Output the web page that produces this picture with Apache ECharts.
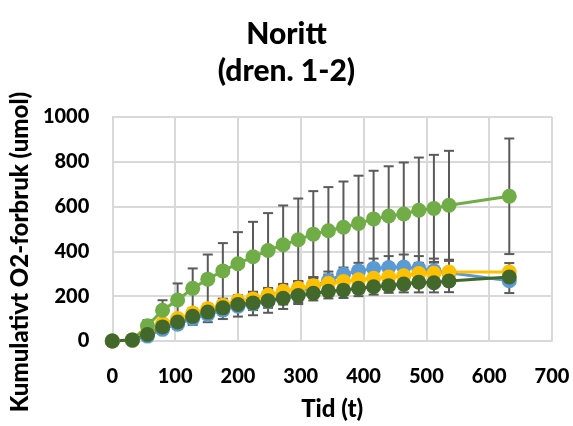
<!DOCTYPE html>
<html>
<head>
<meta charset="utf-8">
<script src="https://cdn.jsdelivr.net/npm/echarts@6/dist/echarts.min.js"></script>
<style>
html,body{margin:0;padding:0;background:#fff;}
#chart{width:573px;height:426px;}
</style>
</head>
<body>
<div id="chart"></div>
<script>
const times = [0, 32, 56, 80, 104, 128, 152, 176, 200, 224, 248, 272, 296, 320, 344, 368, 392, 416, 440, 464, 488, 512, 536, 632];
const blueVals = [0, 3, 22, 52, 75, 100, 118, 138, 155, 165, 178, 195, 215, 245, 269, 298, 313, 324, 328, 330, 324, 313, 305, 269];
const blueErr = [0, 0, 8, 15, 22, 28, 34, 40, 46, 50, 52, 52, 50, 40, 41, 30, 36, 44, 51, 56, 55, 55, 54, 55];
const yellowVals = [0, 4, 38, 78, 100, 125, 144, 160, 180, 188, 205, 222, 235, 247, 257, 266, 273, 280, 286, 291, 301, 302, 308, 308];
const yellowErr = [0, 0, 6, 10, 12, 15, 18, 20, 22, 24, 26, 28, 30, 32, 34, 36, 38, 40, 42, 44, 46, 48, 50, 40];
const lightGreenVals = [0, 5, 68, 137, 183, 235, 276, 313, 345, 376, 404, 430, 452, 477, 492, 508, 525, 545, 558, 567, 584, 592, 606, 646];
const lightGreenErr = [0, 0, 25, 45, 74, 89, 110, 124, 141, 156, 167, 175, 184, 192, 195, 204, 213, 215, 222, 230, 235, 239, 243, 258];
const darkGreenVals = [0, 5, 29, 63, 85, 110, 129, 148, 163, 170, 180, 191, 203, 213, 222, 227, 235, 242, 247, 254, 262, 260, 268, 286];
const darkGreenErr = [0, 0, 5, 8, 12, 15, 18, 22, 25, 32, 32, 28, 30, 32, 32, 35, 35, 35, 32, 37, 45, 43, 50, 25];
const xTicks = {min: 0, max: 700, interval: 100};
const yTicks = {min: 0, max: 1000, interval: 200};

const FONT = 'Lato';
const pts = v => times.map((t, i) => [t, v[i]]);
const errs = (v, e) => times.map((t, i) => [t, v[i] - e[i], v[i] + e[i]]).filter((d, i) => e[i] > 0);

function errSeries(v, e) {
  return {
    type: 'custom',
    z: 1,
    silent: true,
    encode: {x: 0, y: [1, 2]},
    data: errs(v, e),
    renderItem: function (params, api) {
      const x = api.value(0);
      const lo = api.coord([x, api.value(1)]);
      const hi = api.coord([x, api.value(2)]);
      const h = 5;
      const st = {stroke: '#5a5a5a', lineWidth: 2};
      return {
        type: 'group',
        children: [
          {type: 'line', shape: {x1: lo[0], y1: lo[1], x2: hi[0], y2: hi[1]}, style: st},
          {type: 'line', shape: {x1: hi[0] - h, y1: hi[1], x2: hi[0] + h, y2: hi[1]}, style: st},
          {type: 'line', shape: {x1: lo[0] - h, y1: lo[1], x2: lo[0] + h, y2: lo[1]}, style: st}
        ]
      };
    }
  };
}
function lineSeries(v, color) {
  return {
    type: 'line',
    z: 2,
    data: pts(v),
    symbol: 'circle',
    symbolSize: 15,
    showSymbol: true,
    lineStyle: {color: color, width: 3},
    itemStyle: {color: color},
    emphasis: {disabled: true}
  };
}

const chart = echarts.init(document.getElementById('chart'), null, {renderer: 'canvas'});
chart.setOption({
  animation: false,
  backgroundColor: '#fff',
  title: {
    text: 'Noritt\n(dren. 1-2)',
    left: 'center',
    top: 11,
    textStyle: {fontFamily: FONT, fontWeight: 900, fontSize: 30, lineHeight: 37, color: '#000'}
  },
  grid: {left: 110, right: 21, top: 117, bottom: 82},
  xAxis: {
    type: 'value',
    min: xTicks.min, max: xTicks.max, interval: xTicks.interval,
    name: 'Tid (t)',
    nameLocation: 'middle',
    nameGap: 56,
    nameTextStyle: {fontFamily: FONT, fontWeight: 900, fontSize: 24, color: '#000'},
    axisLine: {show: true, lineStyle: {color: '#d9d9d9', width: 2}},
    axisTick: {show: false},
    axisLabel: {fontFamily: FONT, fontWeight: 900, fontSize: 20, color: '#000', margin: 26, formatter: v => String(v)},
    splitLine: {show: true, lineStyle: {color: '#d9d9d9', width: 2}}
  },
  yAxis: {
    type: 'value',
    min: yTicks.min, max: yTicks.max, interval: yTicks.interval,
    name: 'Kumulativt O2-forbruk (umol)',
    nameLocation: 'middle',
    nameGap: 71,
    nameTextStyle: {fontFamily: FONT, fontWeight: 900, fontSize: 24, color: '#000', padding: [0, 46, 0, 0]},
    axisLine: {show: true, lineStyle: {color: '#d9d9d9', width: 2}},
    axisTick: {show: false},
    axisLabel: {fontFamily: FONT, fontWeight: 900, fontSize: 20, color: '#000', margin: 23, formatter: v => String(v)},
    splitLine: {show: true, lineStyle: {color: '#d9d9d9', width: 2}}
  },
  series: [
    errSeries(blueVals, blueErr),
    errSeries(yellowVals, yellowErr),
    errSeries(lightGreenVals, lightGreenErr),
    errSeries(darkGreenVals, darkGreenErr),
    lineSeries(blueVals, '#5B9BD5'),
    lineSeries(yellowVals, '#FFC000'),
    lineSeries(lightGreenVals, '#70AD47'),
    lineSeries(darkGreenVals, '#43682B')
  ]
});
</script>
</body>
</html>
